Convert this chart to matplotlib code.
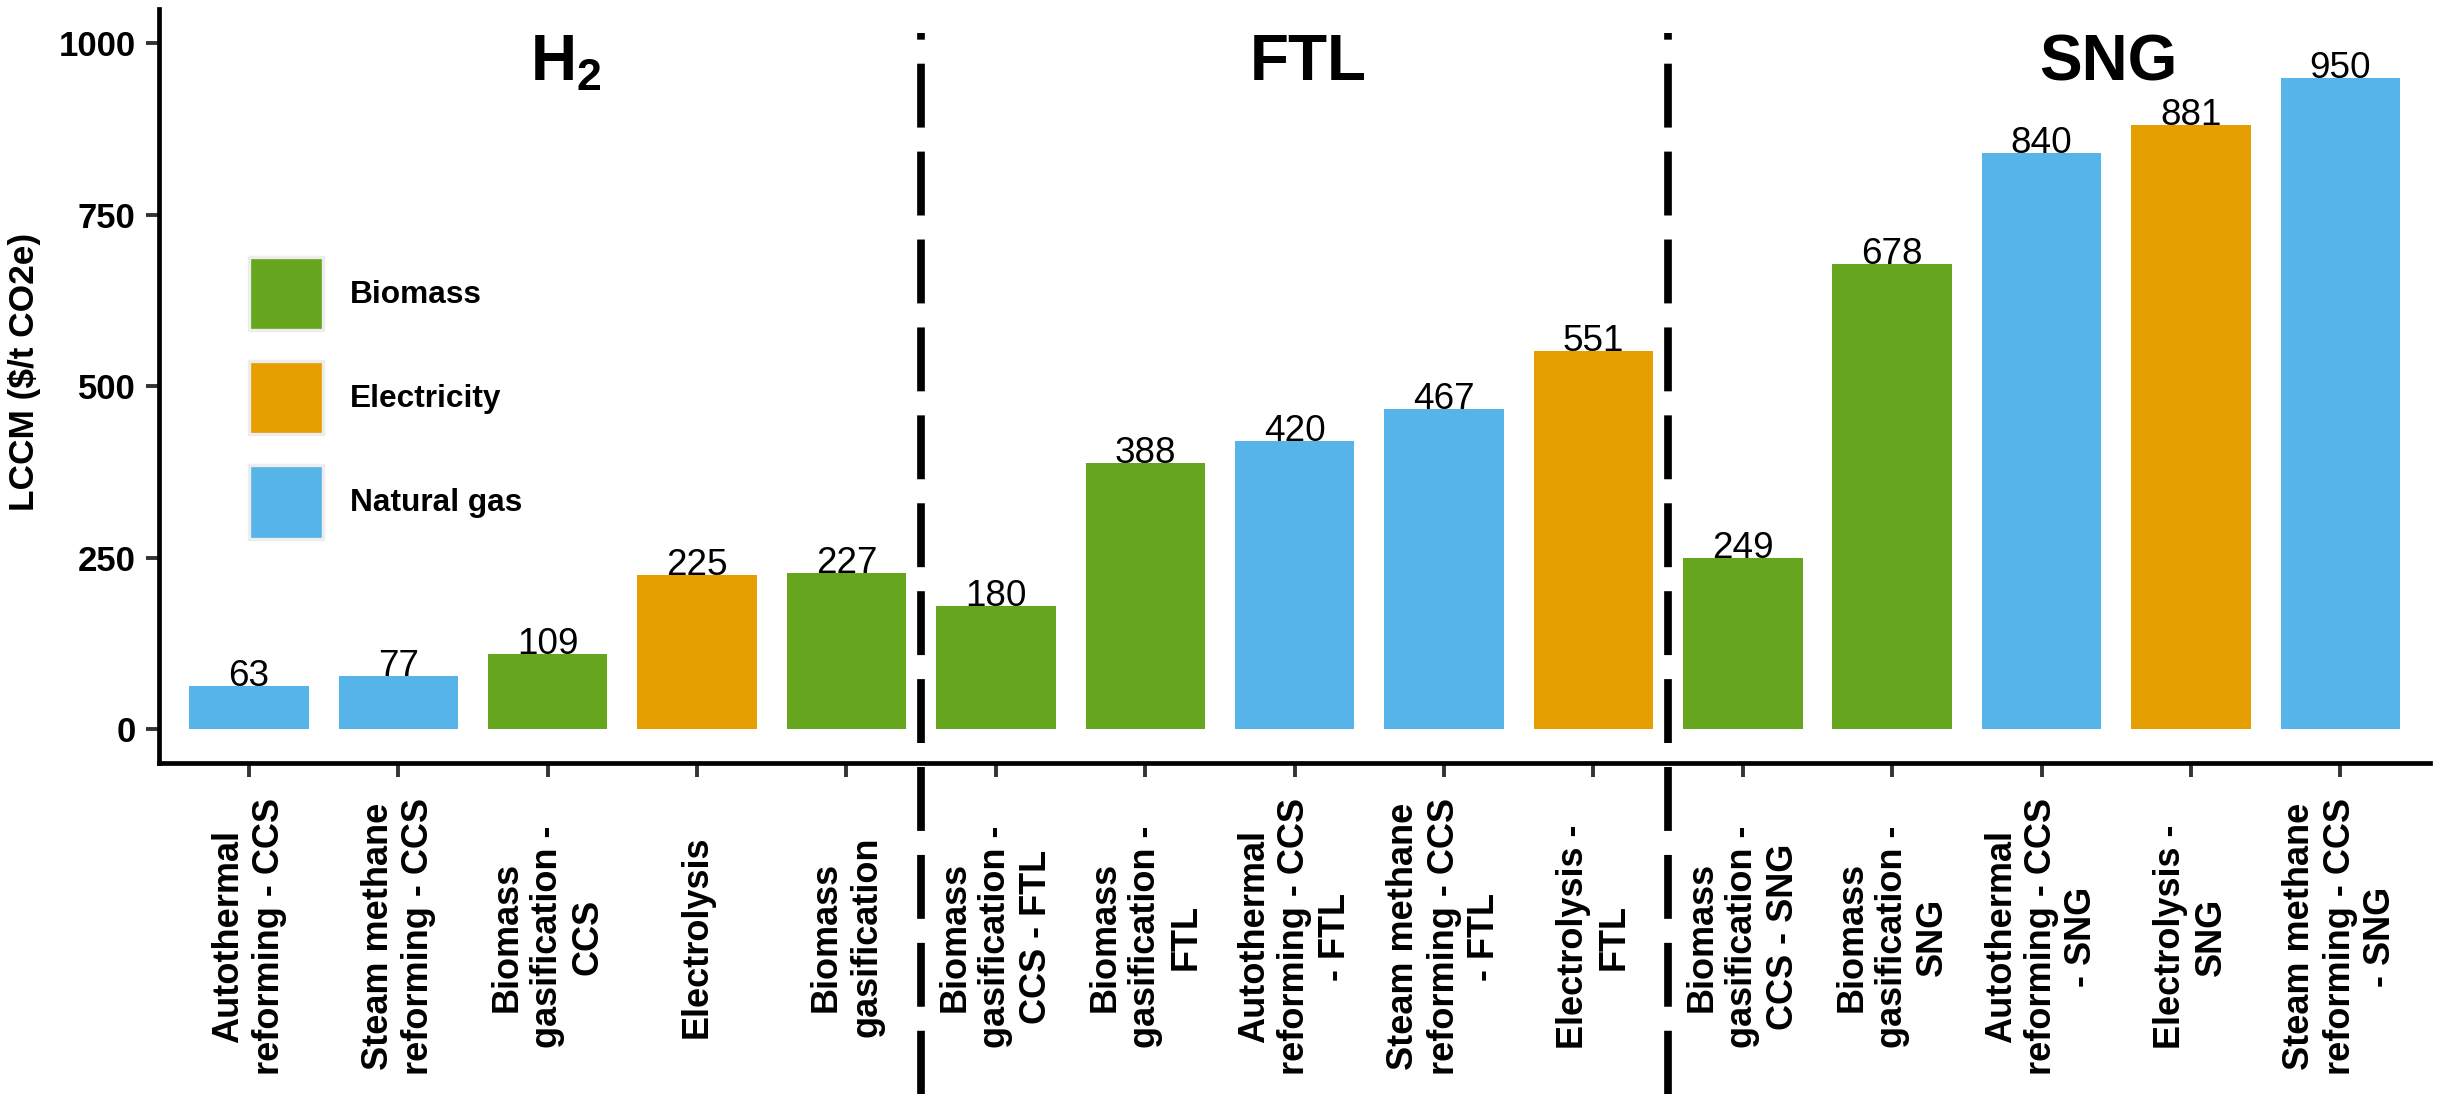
import matplotlib
matplotlib.use("Agg")
import matplotlib.pyplot as plt
from matplotlib.patches import Patch
from matplotlib.transforms import blended_transform_factory

plt.rcParams['font.family'] = ['Liberation Sans', 'DejaVu Sans']
plt.rcParams['mathtext.fontset'] = 'custom'
plt.rcParams['mathtext.bf'] = 'Liberation Sans:bold'
plt.rcParams['mathtext.rm'] = 'Liberation Sans'
plt.rcParams['lines.scale_dashes'] = False

# ---------------- data ----------------
categories = [
    "Autothermal\nreforming - CCS", "Steam methane\nreforming - CCS",
    "Biomass\ngasification -\nCCS", "Electrolysis", "Biomass\ngasification",
    "Biomass\ngasification -\nCCS - FTL", "Biomass\ngasification -\nFTL",
    "Autothermal\nreforming - CCS\n- FTL", "Steam methane\nreforming - CCS\n- FTL",
    "Electrolysis -\nFTL",
    "Biomass\ngasification -\nCCS - SNG", "Biomass\ngasification -\nSNG",
    "Autothermal\nreforming - CCS\n- SNG", "Electrolysis -\nSNG",
    "Steam methane\nreforming - CCS\n- SNG",
]
values = [63, 77, 109, 225, 227, 180, 388, 420, 467, 551, 249, 678, 840, 881, 950]
sources = ["Natural gas", "Natural gas", "Biomass", "Electricity", "Biomass",
           "Biomass", "Biomass", "Natural gas", "Natural gas", "Electricity",
           "Biomass", "Biomass", "Natural gas", "Electricity", "Natural gas"]
source_levels = ["Biomass", "Electricity", "Natural gas"]
source_colors = {"Biomass": "#66A61E", "Electricity": "#E69F00", "Natural gas": "#56B4E9"}
group_titles = [r"$\mathbf{H_2}$", "FTL", "SNG"]
group_title_x = [2.12, 7.09, 12.45]
group_title_y = 946
divider_x = [4.5, 9.5]
yticks = [0, 250, 500, 750, 1000]

# ---------------- figure ----------------
W, H, DPI = 2438, 1094, 200
fig = plt.figure(figsize=(W / DPI, H / DPI), dpi=DPI)
ax_left, ax_right, ax_top, ax_bottom = 159.3, 2430, 9, 763.3
ax = fig.add_axes([ax_left / W, 1 - ax_bottom / H, (ax_right - ax_left) / W, (ax_bottom - ax_top) / H])

x = list(range(len(categories)))
ax.bar(x, values, width=0.8, color=[source_colors[s] for s in sources], zorder=2)

for xi, v in zip(x, values):
    ax.text(xi, v, f"{v}", ha="center", va="baseline", fontsize=13.3, color="black", zorder=3)

for t, tx in zip(group_titles, group_title_x):
    ax.text(tx, group_title_y, t, ha="center", va="baseline", fontsize=23,
            fontweight="bold", color="black")

ax.set_xlim(-0.6, len(categories) - 0.4)
ax.set_ylim(-50, 1050)
ax.set_yticks(yticks)
ax.set_yticklabels([str(t) for t in yticks], fontsize=12.5, fontweight="bold")
ax.set_xticks(x)
ax.set_xticklabels(categories, rotation=90, fontsize=13, fontweight="bold",
                   ha="center", va="center", multialignment="center")

ax.tick_params(axis="y", length=4.6, width=1.4, color="#333333", pad=4)
ax.tick_params(axis="x", length=4.9, width=1.4, color="#333333", pad=57.5)

for side in ["top", "right"]:
    ax.spines[side].set_visible(False)
for side in ["left", "bottom"]:
    ax.spines[side].set_linewidth(1.7)
    ax.spines[side].set_color("black")

ax.set_ylabel("LCCM ($/t CO2e)", fontsize=12.7, fontweight="bold")
ax.yaxis.set_label_coords((41 - ax_left) / (ax_right - ax_left),
                          0.5 + (386 - 372) / (ax_bottom - ax_top))

# dashed dividers, extending below the axis through the label area
trans = blended_transform_factory(ax.transData, fig.transFigure)
for dx in divider_x:
    ax.plot([dx, dx], [1 - 32.7 / H, -0.02], transform=trans, clip_on=False,
            color="black", linewidth=2.77, linestyle=(20.6, (23.0, 8.65)),
            solid_capstyle="butt", dash_capstyle="butt", zorder=4)

# legend
handles = [Patch(facecolor=source_colors[s], edgecolor="#EDEDED", linewidth=1.2, label=s)
           for s in source_levels]
leg = fig.legend(handles=handles, loc="upper left",
                 bbox_to_anchor=(249 / W, 1 - 257 / H), frameon=False,
                 prop={"size": 11.4, "weight": "bold"},
                 handlelength=2.35, handleheight=3.18, labelspacing=0.98,
                 handletextpad=0.85, borderpad=0, borderaxespad=0)

fig.savefig("out.png", dpi=DPI)
